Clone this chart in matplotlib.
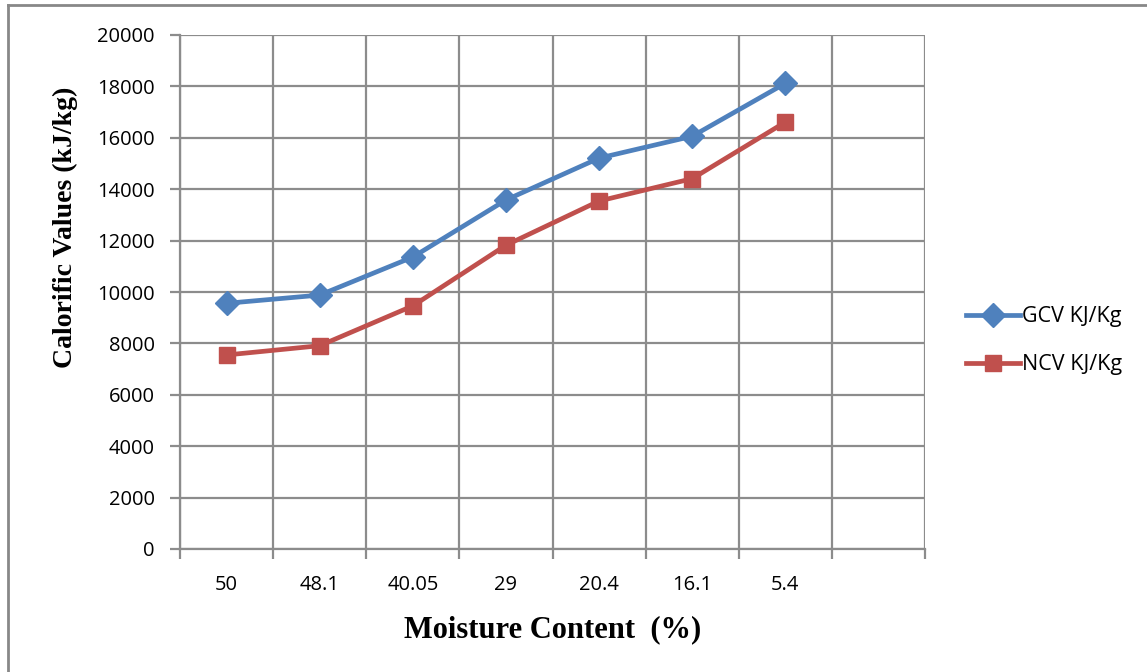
import matplotlib.pyplot as plt
from matplotlib.lines import Line2D
import numpy as np

moisture = ['50', '48.1', '40.05', '29', '20.4', '16.1', '5.4']
gcv = [9560, 9880, 11360, 13580, 15210, 16060, 18120]
ncv = [7550, 7910, 9460, 11820, 13540, 14410, 16610]
yticks = [0, 2000, 4000, 6000, 8000, 10000, 12000, 14000, 16000, 18000, 20000]

blue = '#4F81BD'
red = '#C0504D'
gridc = '#8C8C8C'

fig = plt.figure(figsize=(11.47, 6.72), dpi=100)
ax = fig.add_axes([180/1147, 123/672, 745/1147, 514/672])

x = np.arange(len(moisture))
ax.plot(x, gcv, color=blue, lw=3.4, marker='D', ms=12, label='GCV KJ/Kg', zorder=3)
ax.plot(x, ncv, color=red, lw=3.4, marker='s', ms=12, label='NCV KJ/Kg', zorder=3)

# one empty category at the end, like the original sheet
ax.set_xlim(-0.5, len(moisture) + 0.5)
ax.set_ylim(0, 20000)
ax.set_yticks(yticks)
ax.set_xticks(x)
ax.set_xticklabels(moisture)
ax.set_xticks(np.arange(-0.5, len(moisture) + 1, 1), minor=True)

ax.grid(True, which='major', axis='y', color=gridc, lw=1.6)
ax.grid(True, which='minor', axis='x', color=gridc, lw=1.6)
ax.set_axisbelow(True)

for s in ['top', 'right']:
    ax.spines[s].set_visible(False)
for s in ['left', 'bottom']:
    ax.spines[s].set_color(gridc)
    ax.spines[s].set_linewidth(1.6)

ax.tick_params(axis='x', which='major', length=0, pad=19)
ax.tick_params(axis='x', which='minor', length=7, width=1.6, color=gridc, direction='out')
ax.tick_params(axis='y', length=7, width=1.6, color=gridc, pad=11)
for lab in ax.get_xticklabels() + ax.get_yticklabels():
    lab.set_fontfamily('Open Sans')
    lab.set_fontsize(14.5)

ax.set_xlabel('Moisture Content  (%)', family='Liberation Serif', fontweight='bold',
              fontsize=22, labelpad=14)
ax.set_ylabel('Calorific Values (kJ/kg)', family='Liberation Serif', fontweight='bold',
              fontsize=20)
ax.yaxis.set_label_coords(-0.137, 0.626)

leg = ax.legend(loc='center left', bbox_to_anchor=(1.029, 0.405), frameon=False,
                prop={'family': 'Open Sans', 'size': 15.5}, handlelength=2.5,
                labelspacing=1.25, handletextpad=0.1)

# outer chart frame (top and left edges visible)
fig.add_artist(Line2D([8/1147, 8/1147], [0, 1 - 5/672], color='#888888', lw=2,
                      transform=fig.transFigure))
fig.add_artist(Line2D([8/1147, 1], [1 - 5/672, 1 - 5/672], color='#888888', lw=2,
                      transform=fig.transFigure))

plt.savefig('out.png', dpi=100)
